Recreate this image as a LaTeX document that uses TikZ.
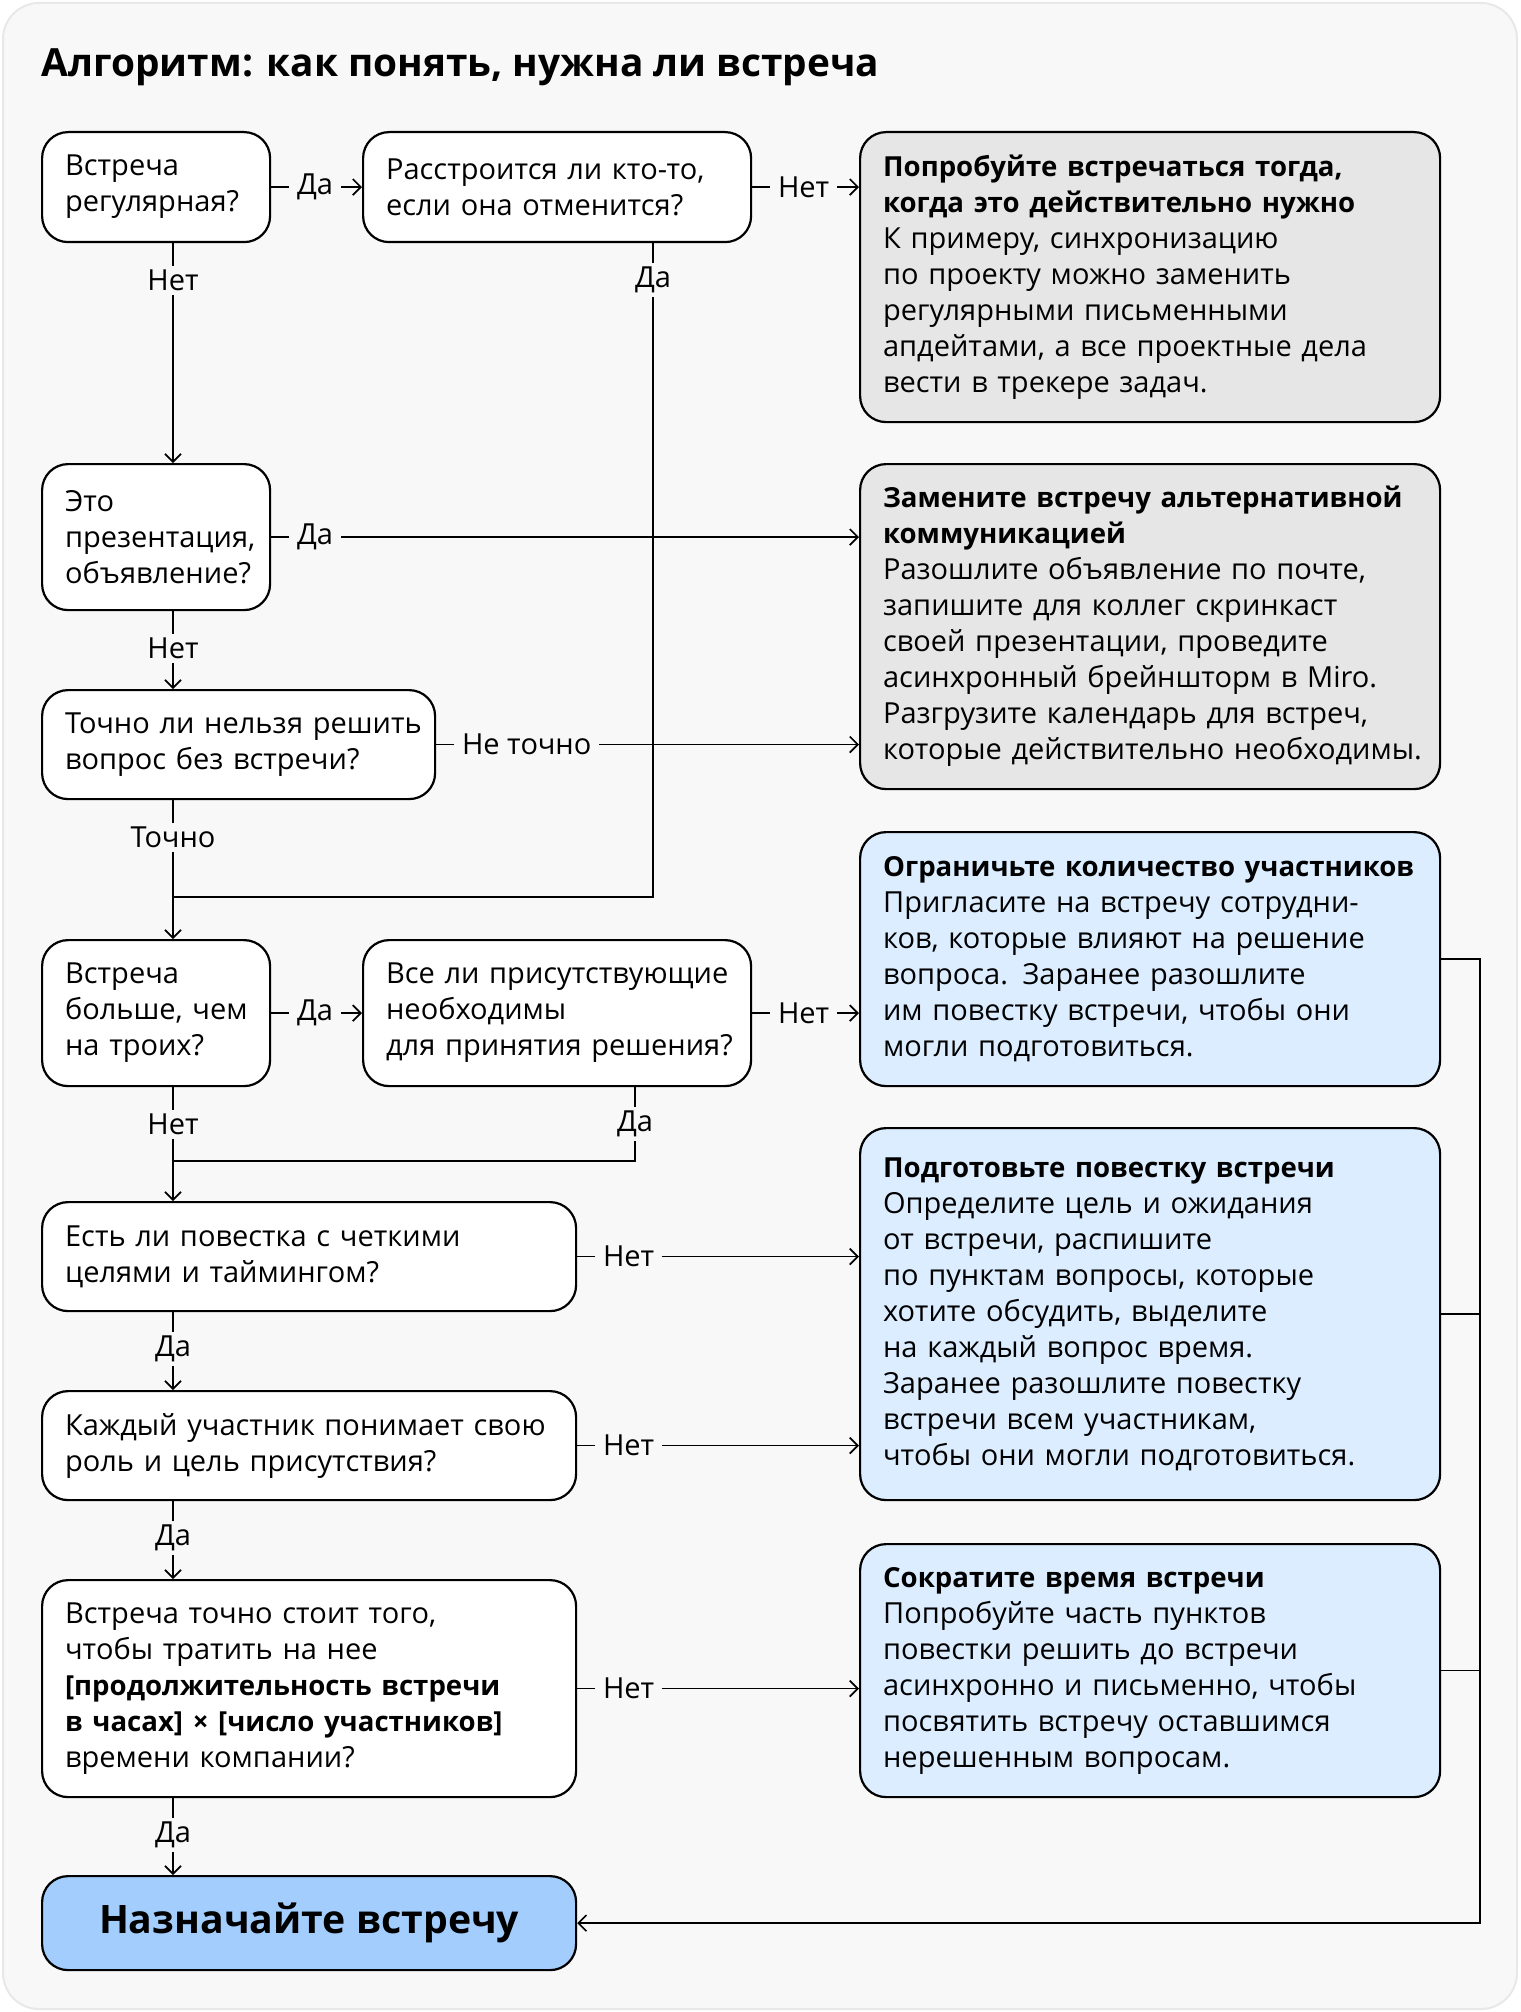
\documentclass[tikz,border=0pt]{standalone}
\usepackage{fontspec}
\setmainfont{Open Sans}
\usetikzlibrary{positioning, arrows.meta, calc}
\definecolor{MeetBg}{RGB}{248, 248, 248}
\definecolor{MeetEdge}{RGB}{232, 232, 232}
\definecolor{MeetGray}{RGB}{230, 230, 230}
\definecolor{MeetBlue}{RGB}{219, 237, 255}
\definecolor{MeetSky}{RGB}{163, 205, 253}
\newcommand{\boldline}[1]{{\fontsize{13.8}{18}\selectfont\bfseries #1}}
\tikzset{
  quest/.style={rectangle, rounded corners=13pt, draw=black, line width=1.1pt, fill=white,
    anchor=north west, align=left, inner xsep=11.5pt, inner ysep=0pt, font=\fontsize{14.5}{18}\selectfont,
    execute at begin node={\rightskip=-40pt plus 1fil}},
  advice/.style={quest, fill=MeetGray, minimum width=290pt, text width=267pt},
  remedy/.style={advice, fill=MeetBlue},
  target/.style={rectangle, rounded corners=13pt, draw=black, line width=1.1pt, fill=MeetSky,
    anchor=north west, inner sep=0pt, font=\bfseries\fontsize{19.6}{22}\selectfont},
  flow/.style={-{Straight Barb[length=4pt, width=8pt]}, line width=0.85pt},
  link/.style={line width=0.85pt},
  lbl/.style={fill=MeetBg, inner xsep=4pt, inner ysep=2pt, font=\fontsize{14.5}{18}\selectfont},
  hlbl/.style={lbl, pos=0, anchor=west, xshift=8.5pt},
  vlbl/.style={lbl, pos=0, anchor=center, yshift=-18.5pt},
}
\begin{document}
\begin{tikzpicture}[x=0.5pt, y=-0.5pt]
    \useasboundingbox (0,0) rectangle (1520,2012);
    \draw[fill=MeetBg, draw=MeetEdge, line width=1pt, rounded corners=18pt] (3,3) rectangle (1517,2009);
    \node[anchor=base west, inner sep=0pt, font=\bfseries\fontsize{19.4}{24}\selectfont] (title) at (41,77)
      {Алгоритм: как понять, нужна ли встреча};
    % questions
    \node[quest, minimum width=114pt, minimum height=55pt, text width=91pt] (reg) at (41,131)
      {Встреча\\регулярная?};
    \node[quest, minimum width=194pt, minimum height=55pt, text width=171pt] (upset) at (362,131)
      {Расстроится ли кто-то,\\если она отменится?};
    \node[quest, minimum width=114pt, minimum height=73pt, text width=91pt] (pres) at (41,463)
      {Это\\презентация,\\объявление?};
    \node[quest, minimum width=196.5pt, minimum height=54.5pt, text width=173.5pt] (sure) at (41,689)
      {Точно ли нельзя решить\\вопрос без встречи?};
    \node[quest, minimum width=114pt, minimum height=73pt, text width=91pt] (three) at (41,939)
      {Встреча\\больше, чем\\на троих?};
    \node[quest, minimum width=194pt, minimum height=73pt, text width=171pt] (need) at (362,939)
      {Все ли присутствующие\\необходимы\\для принятия решения?};
    \node[quest, minimum width=267pt, minimum height=54.5pt, text width=244pt] (agenda) at (41,1201)
      {Есть ли повестка с четкими\\целями и таймингом?};
    \node[quest, minimum width=267pt, minimum height=54.5pt, text width=244pt] (role) at (41,1390)
      {Каждый участник понимает свою\\роль и цель присутствия?};
    \node[quest, minimum width=267pt, minimum height=108.5pt, text width=244pt] (worth) at (41,1579)
      {Встреча точно стоит того,\\чтобы тратить на нее\\\boldline{[продолжительность встречи}\\\boldline{в часах] × [число участников]}\\времени компании?};
    \node[target, minimum width=267pt, minimum height=47pt] (go) at (41,1875) {Назначайте встречу};
    % advice
    \node[advice, minimum height=145pt] (when) at (859,131)
      {\boldline{Попробуйте встречаться тогда,}\\\boldline{когда это действительно нужно}\\К примеру, синхронизацию\\по проекту можно заменить\\регулярными письменными\\апдейтами, а все проектные дела\\вести в трекере задач.};
    \node[advice, minimum height=162.5pt] (alt) at (859,463)
      {\boldline{Замените встречу альтернативной}\\\boldline{коммуникацией}\\Разошлите объявление по почте,\\запишите для коллег скринкаст\\своей презентации, проведите\\асинхронный брейншторм в Miro.\\Разгрузите календарь для встреч,\\которые действительно необходимы.};
    \node[remedy, minimum height=127pt] (fewer) at (859,831)
      {\boldline{Ограничьте количество участников}\\Пригласите на встречу сотрудни-\\ков, которые влияют на решение\\вопроса. Заранее разошлите\\им повестку встречи, чтобы они\\могли подготовиться.};
    \node[remedy, minimum height=186pt] (prep) at (859,1127)
      {\boldline{Подготовьте повестку встречи}\\Определите цель и ожидания\\от встречи, распишите\\по пунктам вопросы, которые\\хотите обсудить, выделите\\на каждый вопрос время.\\Заранее разошлите повестку\\встречи всем участникам,\\чтобы они могли подготовиться.};
    \node[remedy, minimum height=126.5pt] (short) at (859,1543)
      {\boldline{Сократите время встречи}\\Попробуйте часть пунктов\\повестки решить до встречи\\асинхронно и письменно, чтобы\\посвятить встречу оставшимся\\нерешенным вопросам.};
    % guide lines
    \coordinate (spine) at (173,0);
    \coordinate (upx) at (653,0);
    \coordinate (needx) at (635,0);
    \coordinate (bus) at (1480,0);
    \coordinate (join1) at (653,897);
    \coordinate (join2) at (635,1161);
    % connectors
    \draw[flow] (reg) -- node[hlbl]{Да} (upset);
    \draw[flow] (upset.east) -- node[hlbl]{Нет} (upset.east -| when.west);
    \draw[flow] (reg.south -| spine) -- node[vlbl]{Нет} (pres.north -| spine);
    \draw[link] (upset.south -| upx) -- node[vlbl]{Да} (join1) -- (join1 -| spine);
    \draw[flow] (pres.east) -- node[hlbl]{Да} (pres.east -| alt.west);
    \draw[flow] (pres.south -| spine) -- node[vlbl]{Нет} (sure.north -| spine);
    \draw[flow] (sure.east) -- node[hlbl]{Не точно} (sure.east -| alt.west);
    \draw[flow] (sure.south -| spine) -- node[vlbl]{Точно} (three.north -| spine);
    \draw[flow] (three) -- node[hlbl]{Да} (need);
    \draw[flow] (need.east) -- node[hlbl]{Нет} (need.east -| fewer.west);
    \draw[flow] (three.south -| spine) -- node[vlbl]{Нет} (agenda.north -| spine);
    \draw[link] (need.south -| needx) -- node[vlbl]{Да} (join2) -- (join2 -| spine);
    \draw[flow] (agenda.east) -- node[hlbl]{Нет} (agenda.east -| prep.west);
    \draw[flow] (agenda.south -| spine) -- node[vlbl]{Да} (role.north -| spine);
    \draw[flow] (role.east) -- node[hlbl]{Нет} (role.east -| prep.west);
    \draw[flow] (role.south -| spine) -- node[vlbl]{Да} (worth.north -| spine);
    \draw[flow] (worth.east) -- node[hlbl]{Нет} (worth.east -| short.west);
    \draw[flow] (worth.south -| spine) -- node[vlbl]{Да} (go.north -| spine);
    \draw[flow] (fewer.east) -- (fewer.east -| bus) |- (go.east);
    \draw[link] (prep.east) -- (prep.east -| bus);
    \draw[link] (short.east) -- (short.east -| bus);
\end{tikzpicture}
\end{document}
